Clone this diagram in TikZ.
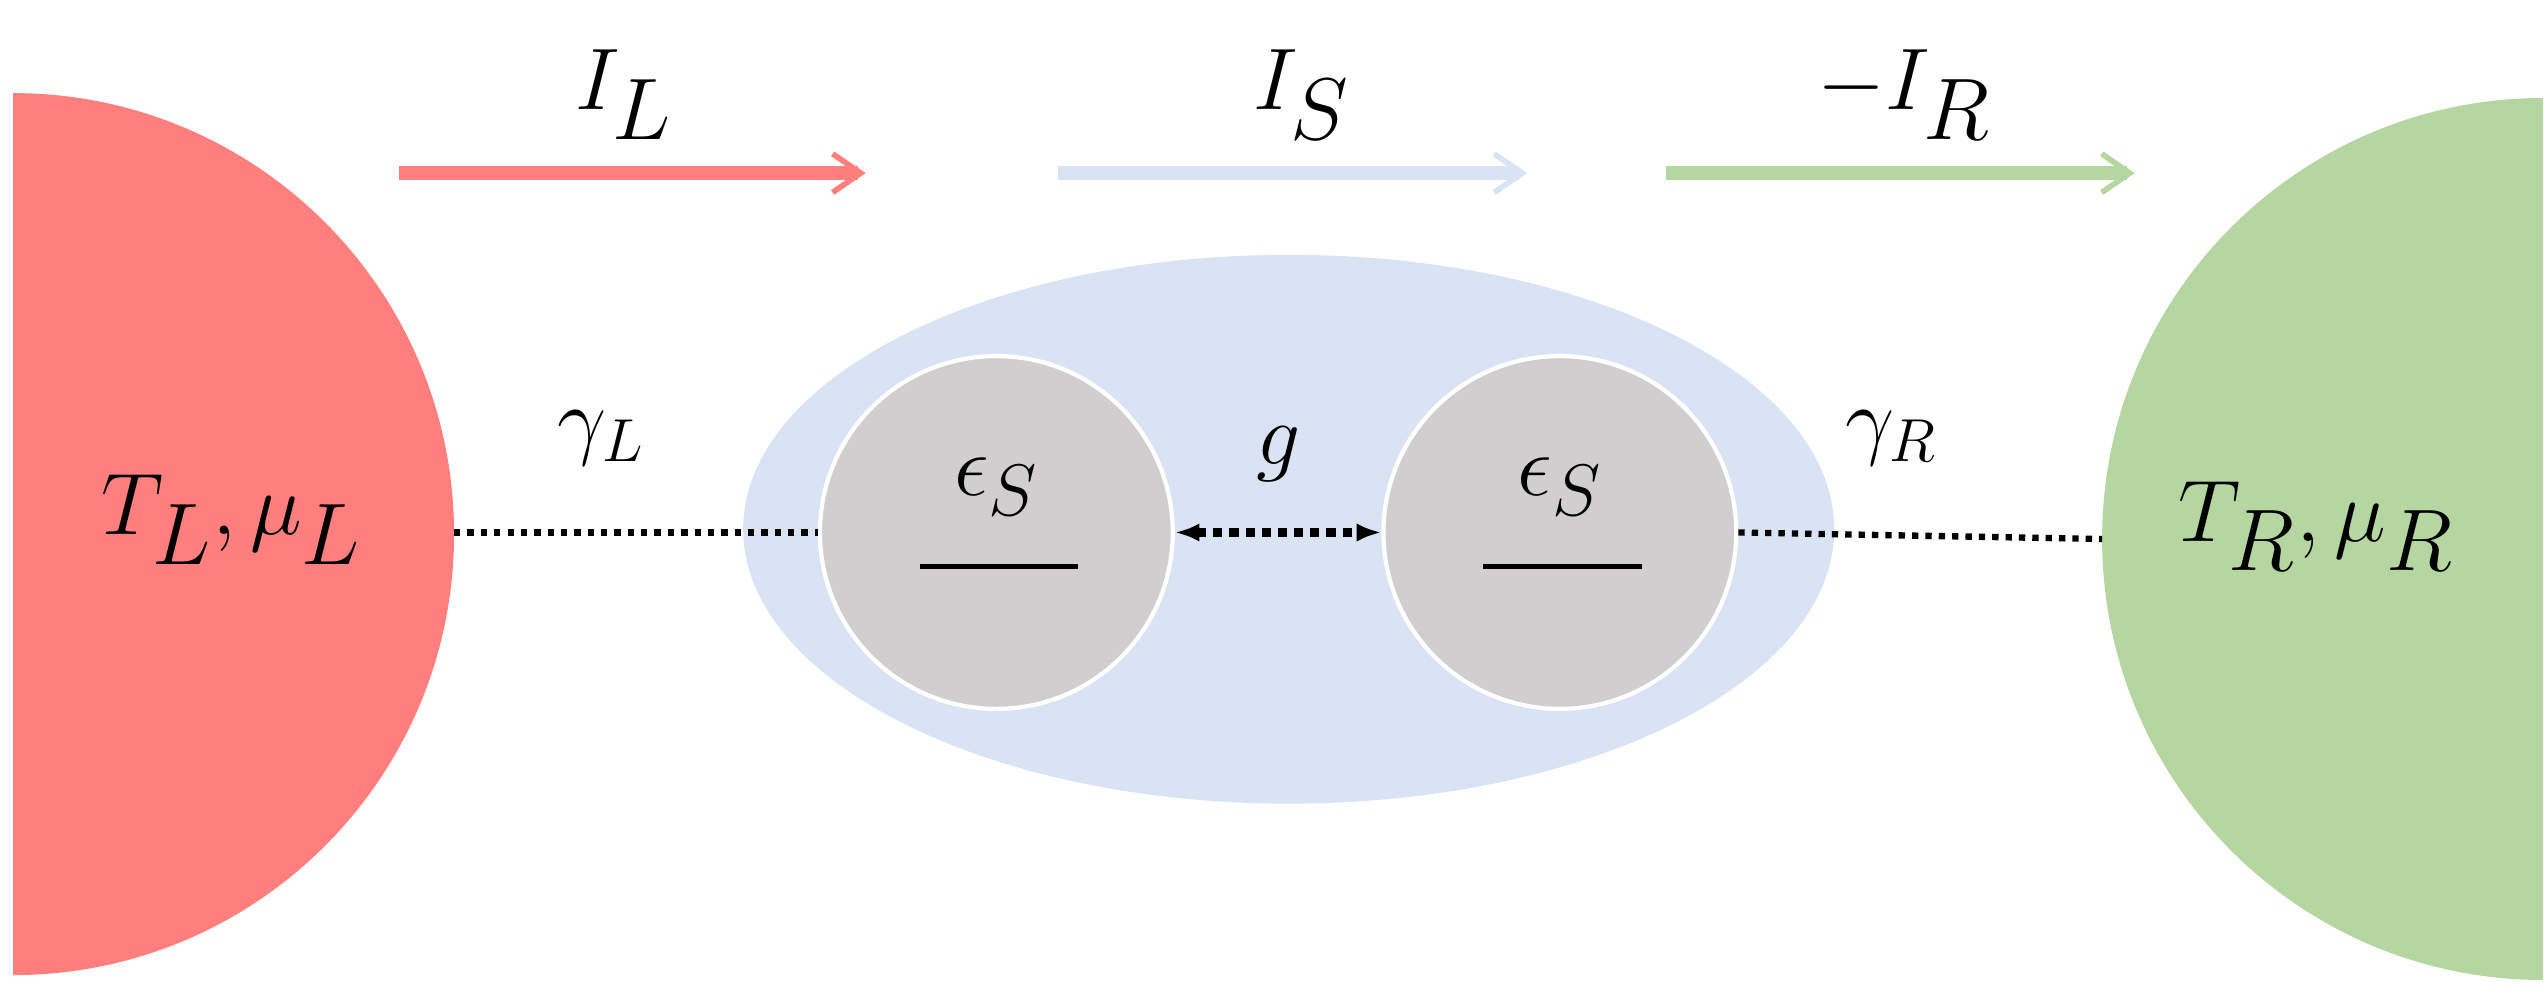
\documentclass[tikz,border=0pt]{standalone}
\usetikzlibrary{arrows.meta}
\begin{document}
\begin{tikzpicture}[x=0.016333cm,y=-0.016333cm,
  flow/.style={line width=4pt,-{Straight Barb[length=8pt,width=11pt,line width=1.6pt]}},
  dot/.style={line width=1.8pt,dotted},
  lab/.style={font=\fontsize{38}{44}\selectfont},
  ilab/.style={font=\fontsize{35}{42}\selectfont},
  slab/.style={font=\fontsize{27}{32}\selectfont}]
\useasboundingbox (0,0) rectangle (1560,610);
\definecolor{cred}{HTML}{FF7F7F}\definecolor{cgreen}{HTML}{B5D6A0}
\definecolor{cblue}{HTML}{DAE3F3}\definecolor{cgray}{HTML}{D0CECE}
\fill[cred] (8,57) arc (-90:90:270) -- cycle;
\fill[cgreen] (1557,60) arc (-90:-270:270) -- cycle;
\coordinate (Le) at (278,326); \coordinate (Re) at (1287,330);
\node[lab] (TL) at (142,318) {$T_L,\mu_L$};
\node[lab] (TR) at (1418,322) {$T_R,\mu_R$};
\fill[cblue] (789,324) ellipse [x radius=334, y radius=168];
\node[circle,fill=cgray,draw=white,line width=1.2pt,minimum size=216*0.016333cm] (c1) at (610,326) {};
\node[circle,fill=cgray,draw=white,line width=1.2pt,minimum size=216*0.016333cm] (c2) at (955,326) {};
\node[font=\fontsize{32}{38}\selectfont] (e1) at (610,298) {$\epsilon_S$};
\node[font=\fontsize{32}{38}\selectfont] (e2) at (955,298) {$\epsilon_S$};
\draw[line width=1.5pt] (563,347) -- (660,347);
\draw[line width=1.5pt] (908,347) -- (1005,347);
\draw[dot] (Le) -- (c1.west);
\draw[dot] (c2.east) -- (Re);
\draw[line width=2.6pt,dotted,{Latex[length=7pt]}-{Latex[length=7pt]}] (c1.east) -- (c2.west);
\node[slab] (gL) at (368,268) {$\gamma_L$};
\node[slab] (gg) at (783,278) {$g$};
\node[slab] (gR) at (1158,268) {$\gamma_R$};
\coordinate (a1) at (244,106); \coordinate (a2) at (530,106);
\coordinate (b1) at (648,106); \coordinate (b2) at (935,106);
\coordinate (d1) at (1020,106); \coordinate (d2) at (1307,106);
\draw[flow,cred] (a1) -- (a2);
\draw[flow,cblue] (b1) -- (b2);
\draw[flow,cgreen] (d1) -- (d2);
\node[ilab] (IL) at (382,58) {$I_L$};
\node[ilab] (IS) at (797,58) {$I_S$};
\node[ilab] (IR) at (1166,58) {$-I_R$};
\end{tikzpicture}
\end{document}
